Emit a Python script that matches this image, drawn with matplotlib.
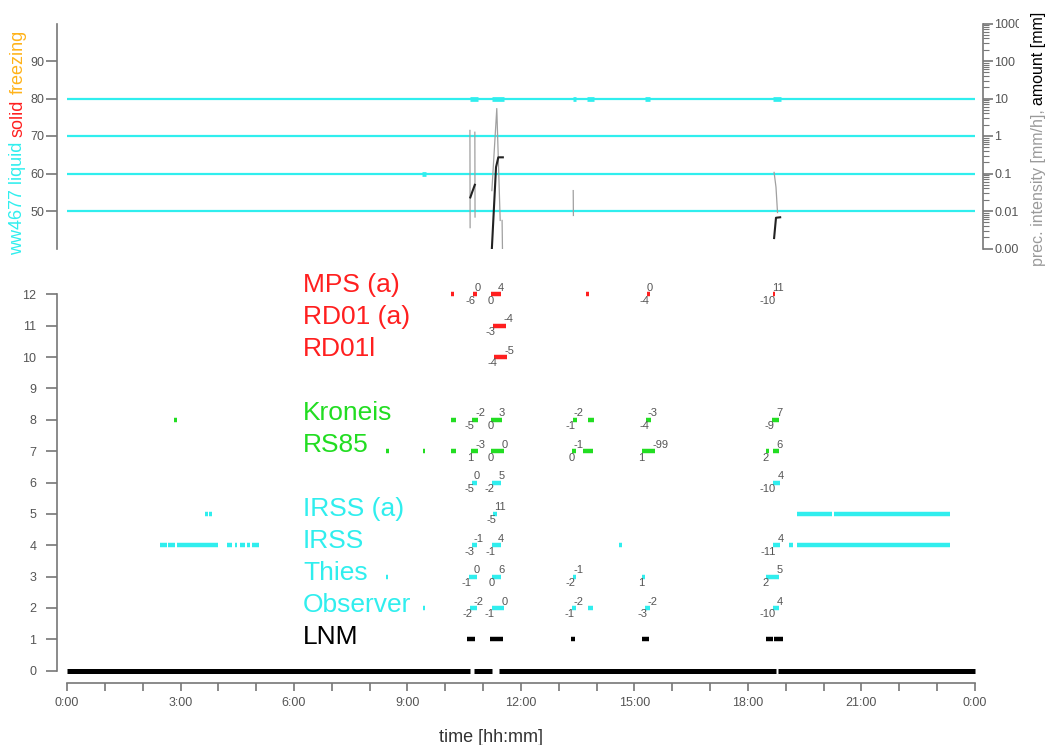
import numpy as np
import matplotlib
matplotlib.use('Agg')
import matplotlib.pyplot as plt
from matplotlib.ticker import LogLocator, NullFormatter
from matplotlib.transforms import Bbox, TransformedBbox

plt.rcParams['font.family'] = ['Liberation Sans', 'DejaVu Sans']

nan = np.nan

# colours
CYAN = '#30eeee'
RED = '#ff1f1f'
GREEN = '#22dd22'
ORANGE = '#ffb31a'
GRAY_TXT = '#555555'
SPINE = '#777777'

# ---- upper panel: ww4677 code lines and precipitation ----
ww_levels = [50, 60, 70, 80]
# (start h, end h, code) periods where the code is reported
ww_marks = [(9.38, 9.49, 60), (10.65, 10.87, 80), (11.23, 11.55, 80),
            (13.37, 13.45, 80), (13.75, 13.93, 80), (15.28, 15.41, 80),
            (18.65, 18.87, 80)]

int_time = [10.650, 10.655, nan, 10.780, 10.785, nan,
            11.23, 11.36, 11.45, nan, 11.50, 11.51, nan,
            13.380, 13.385, nan, 18.69, 18.74, 18.78]
int_value = [1.41, 0.0036, nan, 1.26, 0.0069, nan,
             0.035, 5.4, 0.0056, nan, 0.0056, 0.001, nan,
             0.035, 0.0076, nan, 0.107, 0.043, 0.0091]

amt_time = [10.66, 10.71, 10.78, nan, 11.23, 11.34, 11.40, 11.52, nan,
            18.69, 18.74, 18.85]
amt_value = [0.023, 0.032, 0.05, nan, 0.001, 0.148, 0.27, 0.27, nan,
             0.0019, 0.0066, 0.0068]

log_ticks = [0.001, 0.01, 0.1, 1, 10, 100, 1000]
log_labels = ['0.001', '0.01', '0.1', '1', '10', '100', '1000']

# ---- lower panel: detections per instrument (start h, end h, low, high) ----
baseline = [(0.0, 10.65), (10.76, 11.24), (11.43, 18.74), (18.80, 24.0)]

mps_a = [(10.14, 10.22, None, None), (10.72, 10.85, '-6', '0'),
         (11.21, 11.47, '0', '4'), (13.71, 13.79, None, None),
         (15.33, 15.40, '-4', '0'), (18.66, 18.72, '-10', '11')]
rd01_a = [(11.25, 11.60, '-3', '-4')]
rd01l = [(11.29, 11.64, '-4', '-5')]
kroneis = [(2.84, 2.92, None, None), (10.14, 10.28, None, None),
           (10.70, 10.87, '-5', '-2'), (11.21, 11.49, '0', '3'),
           (13.37, 13.47, '-1', '-2'), (13.76, 13.93, None, None),
           (15.31, 15.43, '-4', '-3'), (18.63, 18.82, '-9', '7')]
rs85 = [(8.44, 8.52, None, None), (9.40, 9.46, None, None),
        (10.14, 10.28, None, None), (10.68, 10.87, '1', '-3'),
        (11.21, 11.55, '0', '0'), (13.34, 13.45, '0', '-1'),
        (13.63, 13.91, None, None), (15.19, 15.54, '1', '-99'),
        (18.48, 18.56, '2', None), (18.65, 18.83, None, '6')]
row6 = [(10.70, 10.83, '-5', '0'), (11.23, 11.47, '-2', '5'),
        (18.65, 18.85, '-10', '4')]
irss_a = [(3.65, 3.72, None, None), (3.76, 3.83, None, None),
          (11.27, 11.36, '-5', '11'), (19.30, 20.22, None, None),
          (20.26, 23.34, None, None)]
irss = [(2.46, 2.63, None, None), (2.68, 2.85, None, None),
        (2.90, 4.00, None, None), (4.22, 4.37, None, None),
        (4.44, 4.50, None, None), (4.57, 4.71, None, None),
        (4.77, 4.84, None, None), (4.90, 5.08, None, None),
        (10.70, 10.83, '-3', '-1'), (11.24, 11.47, '-1', '4'),
        (14.60, 14.66, None, None), (18.67, 18.85, '-11', '4'),
        (19.08, 19.19, None, None), (19.30, 23.34, None, None)]
thies = [(8.43, 8.49, None, None), (10.63, 10.83, '-1', '0'),
         (11.23, 11.47, '0', '6'), (13.38, 13.46, '-2', '-1'),
         (15.19, 15.28, '1', None), (18.48, 18.83, '2', '5')]
observer = [(9.41, 9.47, None, None), (10.64, 10.83, '-2', '-2'),
            (11.23, 11.55, '-1', '0'), (13.34, 13.45, '-1', '-2'),
            (13.76, 13.91, None, None), (15.28, 15.41, '-3', '-2'),
            (18.65, 18.83, '-10', '4')]
lnm = [(10.57, 10.78, None, None), (11.18, 11.52, None, None),
       (13.32, 13.43, None, None), (15.20, 15.38, None, None),
       (18.48, 18.65, None, None), (18.70, 18.93, None, None)]

instruments = [('MPS (a)', 12, RED, mps_a), ('RD01 (a)', 11, RED, rd01_a),
               ('RD01l', 10, RED, rd01l), ('Kroneis', 8, GREEN, kroneis),
               ('RS85', 7, GREEN, rs85), ('', 6, CYAN, row6),
               ('IRSS (a)', 5, CYAN, irss_a), ('IRSS', 4, CYAN, irss),
               ('Thies', 3, CYAN, thies), ('Observer', 2, CYAN, observer),
               ('LNM', 1, 'black', lnm)]
label_x = 6.24

fig = plt.figure(figsize=(10.5, 7.45), dpi=100)
W, H = 1050, 745

# ================= upper panel =================
ax1 = fig.add_axes([67 / W, 1 - 248.5 / H, 908 / W, 225 / H])
ax1.set_xlim(0, 24)
ax1.set_ylim(40, 100)
for lv in ww_levels:
    ax1.axhline(lv, color=CYAN, lw=1.6, zorder=1)
for t0, t1, lv in ww_marks:
    ax1.plot([t0, t1], [lv, lv], color=CYAN, lw=3.4, solid_capstyle='butt', zorder=2)

for s in ['top', 'right', 'bottom']:
    ax1.spines[s].set_visible(False)
ax1.spines['left'].set_position(('outward', 7))
ax1.spines['left'].set_color(SPINE)
ax1.spines['left'].set_linewidth(1.2)
ax1.set_xticks([])
ax1.set_yticks([50, 60, 70, 80, 90])
ax1.tick_params(axis='y', length=8, width=1.2, color=SPINE, pad=1,
                labelsize=9, labelcolor=GRAY_TXT)

ax2 = ax1.twinx()
ax2.set_yscale('log')
ax2.set_ylim(0.001, 1000)
ax2.plot(int_time, int_value, color='#a0a0a0', lw=0.9)
ax2.plot(amt_time, amt_value, color='#222222', lw=1.5)
for s in ['top', 'left', 'bottom']:
    ax2.spines[s].set_visible(False)
ax2.spines['right'].set_position(('outward', 6))
ax2.spines['right'].set_color(SPINE)
ax2.spines['right'].set_linewidth(1.2)
ax2.set_yticks(log_ticks)
ax2.set_yticklabels(log_labels)
ax2.yaxis.set_minor_locator(LogLocator(base=10, subs=np.arange(2, 10)))
ax2.yaxis.set_minor_formatter(NullFormatter())
ax2.tick_params(axis='y', which='major', length=7, width=1.2, color=SPINE, pad=1,
                labelsize=9, labelcolor=GRAY_TXT)
ax2.tick_params(axis='y', which='minor', length=4, width=0.8, color=SPINE)
clip = TransformedBbox(Bbox([[0, 0], [1019 / W, 1]]), fig.transFigure)
for lbl in ax2.get_yticklabels():
    lbl.set_clip_box(clip)
    lbl.set_clip_on(True)

# ================= lower panel =================
ax3 = fig.add_axes([67 / W, 1 - 670.7 / H, 908 / W, 376.4 / H])
ax3.set_xlim(0, 24)
ax3.set_ylim(0, 12)

for t0, t1 in baseline:
    ax3.plot([t0, t1], [0, 0], color='black', lw=3.6, solid_capstyle='butt', clip_on=False)

for name, row, col, events in instruments:
    if name:
        ax3.text(label_x, row + 0.05 + 0.02 * row, name, color=col, fontsize=19,
                 ha='left', va='center')
    for t0, t1, lo, hi in events:
        ax3.plot([t0, t1], [row, row], color=col, lw=3.2, solid_capstyle='butt', clip_on=False)
        if lo is not None:
            ax3.annotate(lo, (t0, row), xytext=(2, -1), textcoords='offset points',
                         ha='right', va='top', fontsize=8, color=GRAY_TXT)
        if hi is not None:
            ax3.annotate(hi, (t1, row), xytext=(-2, 1), textcoords='offset points',
                         ha='left', va='bottom', fontsize=8, color=GRAY_TXT)

for s in ['top', 'right']:
    ax3.spines[s].set_visible(False)
ax3.spines['left'].set_position(('outward', 7))
ax3.spines['bottom'].set_position(('outward', 9))
for s in ['left', 'bottom']:
    ax3.spines[s].set_color(SPINE)
    ax3.spines[s].set_linewidth(1.2)
ax3.set_yticks(range(0, 13))
hours = list(range(0, 25))
ax3.set_xticks(hours)
ax3.set_xticklabels([f'{h % 24}:00' if h % 3 == 0 else '' for h in hours])
ax3.tick_params(axis='y', length=8, width=1.2, color=SPINE, pad=7,
                labelsize=9, labelcolor=GRAY_TXT)
ax3.tick_params(axis='x', length=6, width=1.2, color=SPINE, pad=4,
                labelsize=9, labelcolor=GRAY_TXT)

fig.text(491 / W, 1 - 737 / H, 'time [hh:mm]', fontsize=13, color='#333333',
         ha='center', va='center')

# ---- multi-coloured axis titles ----
fig.canvas.draw()
renderer = fig.canvas.get_renderer()

y = 1 - 255 / H
for txt, col in [('ww4677 liquid', CYAN), ('solid', RED), ('freezing', ORANGE)]:
    t = fig.text(18 / W, y, txt, rotation=90, color=col, fontsize=13,
                 ha='center', va='bottom')
    bb = t.get_window_extent(renderer)
    y = (bb.y1 + 5) / H

y = 1 - 266 / H
for txt, col in [('prec. intensity [mm/h],', '#9a9a9a'), ('amount [mm]', 'black')]:
    t = fig.text(1039 / W, y, txt, rotation=90, color=col, fontsize=11.5,
                 ha='center', va='bottom')
    bb = t.get_window_extent(renderer)
    y = (bb.y1 + 4) / H

fig.savefig('out.png', dpi=100)
